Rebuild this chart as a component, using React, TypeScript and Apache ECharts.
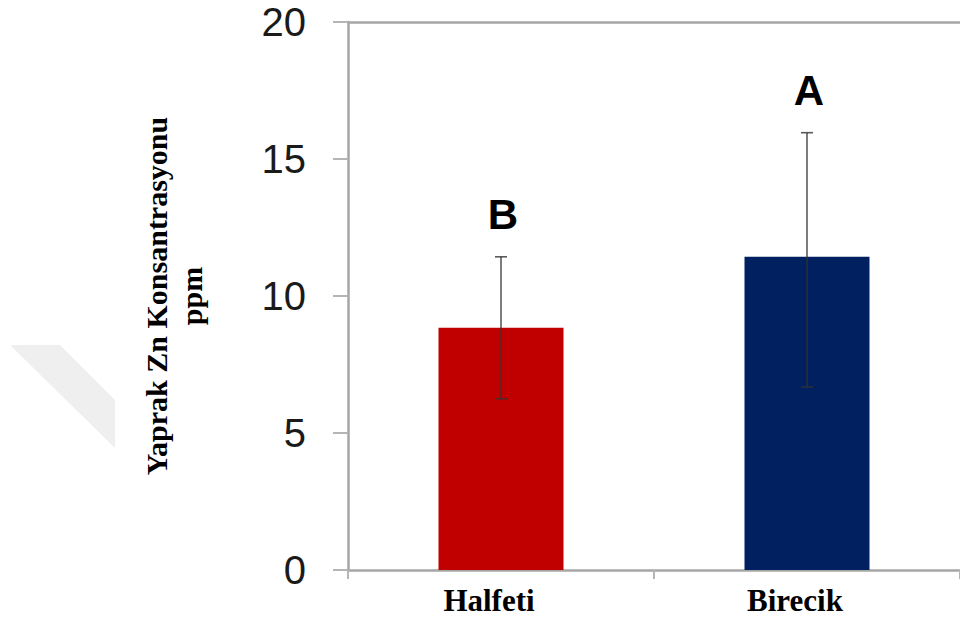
import React, { useEffect, useRef } from "react";
import * as echarts from "echarts";

const categories = ["Halfeti", "Birecik"];
const meanValues = [8.84, 11.43];
const errLow = [6.25, 6.68];
const errHigh = [11.43, 15.96];
const sigLetters = ["B", "A"];
const barColors = ["#C00000", "#002060"];
const yTicks = { min: 0, max: 20, interval: 5 };

export default function App() {
  const ref = useRef<HTMLDivElement>(null);
  useEffect(() => {
    if (!ref.current) return;
    const chart = echarts.init(ref.current, null, { renderer: "svg" });
    const option: any = {
      animation: false,
      backgroundColor: "#ffffff",
      grid: { left: 348, top: 22, bottom: 53, right: -6, containLabel: false },
      graphic: [
        {
          type: "polygon",
          shape: { points: [[10, 345], [60, 345], [115, 400], [115, 448]] },
          style: { fill: "#efefef" },
          silent: true,
          z: -1,
        },
        {
          type: "text",
          x: 174,
          y: 296,
          rotation: Math.PI / 2,
          style: {
            text: "Yaprak Zn Konsantrasyonu\nppm",
            font: 'bold 30px "Liberation Serif", "Times New Roman", serif',
            fill: "#000",
            align: "center",
            verticalAlign: "middle",
            lineHeight: 35,
          },
        },
      ],
      xAxis: [
        {
          type: "category",
          data: categories,
          axisLine: { lineStyle: { color: "#a6a6a6", width: 2.5 } },
          axisTick: { show: true, alignWithLabel: false, length: 9, lineStyle: { color: "#b5b5b5", width: 2 } },
          axisLabel: {
            margin: 15,
            color: "#000",
            fontFamily: '"Liberation Serif", "Times New Roman", serif',
            fontWeight: "bold",
            fontSize: 31,
            padding: [0, 24, 0, 0],
          },
        },
        {
          type: "category",
          position: "top",
          data: categories,
          axisLine: { show: true, lineStyle: { color: "#a6a6a6", width: 2.5 } },
          axisTick: { show: false },
          axisLabel: { show: false },
        },
      ],
      yAxis: {
        type: "value",
        min: yTicks.min,
        max: yTicks.max,
        interval: yTicks.interval,
        axisLine: { show: true, lineStyle: { color: "#a6a6a6", width: 2.5 } },
        axisTick: { show: true, length: 15, lineStyle: { color: "#b5b5b5", width: 2 } },
        splitLine: { show: false },
        axisLabel: {
          margin: 42,
          color: "#1a1a1a",
          fontFamily: '"Liberation Sans", Arial, sans-serif',
          fontSize: 40,
        },
      },
      series: [
        {
          type: "bar",
          barWidth: 125,
          data: meanValues.map((v, i) => ({ value: v, itemStyle: { color: barColors[i] } })),
          z: 2,
        },
        {
          type: "custom",
          z: 3,
          data: categories.map((_, i) => [i, errLow[i], errHigh[i]]),
          renderItem: (params: any, api: any) => {
            const idx = api.value(0);
            const lo = api.coord([idx, api.value(1)]);
            const hi = api.coord([idx, api.value(2)]);
            const x = hi[0];
            const cap = 6;
            const st = { stroke: "#333", lineWidth: 1.6, opacity: 0.8 };
            return {
              type: "group",
              children: [
                { type: "line", shape: { x1: x, y1: hi[1], x2: x, y2: lo[1] }, style: st },
                { type: "line", shape: { x1: x - cap, y1: hi[1], x2: x + cap, y2: hi[1] }, style: st },
                { type: "line", shape: { x1: x - cap, y1: lo[1], x2: x + cap, y2: lo[1] }, style: st },
                {
                  type: "text",
                  x: x + 2,
                  y: hi[1] - 42,
                  style: {
                    text: sigLetters[params.dataIndex],
                    font: 'bold 42px "Liberation Sans", Arial, sans-serif',
                    fill: "#000",
                    align: "center",
                    verticalAlign: "middle",
                  },
                },
              ],
            };
          },
        },
      ],
    };
    chart.setOption(option);
    return () => chart.dispose();
  }, []);
  return (
    <div
      ref={ref}
      style={{ position: "fixed", left: 0, top: 0, width: 960, height: 623, background: "#fff" }}
    />
  );
}
